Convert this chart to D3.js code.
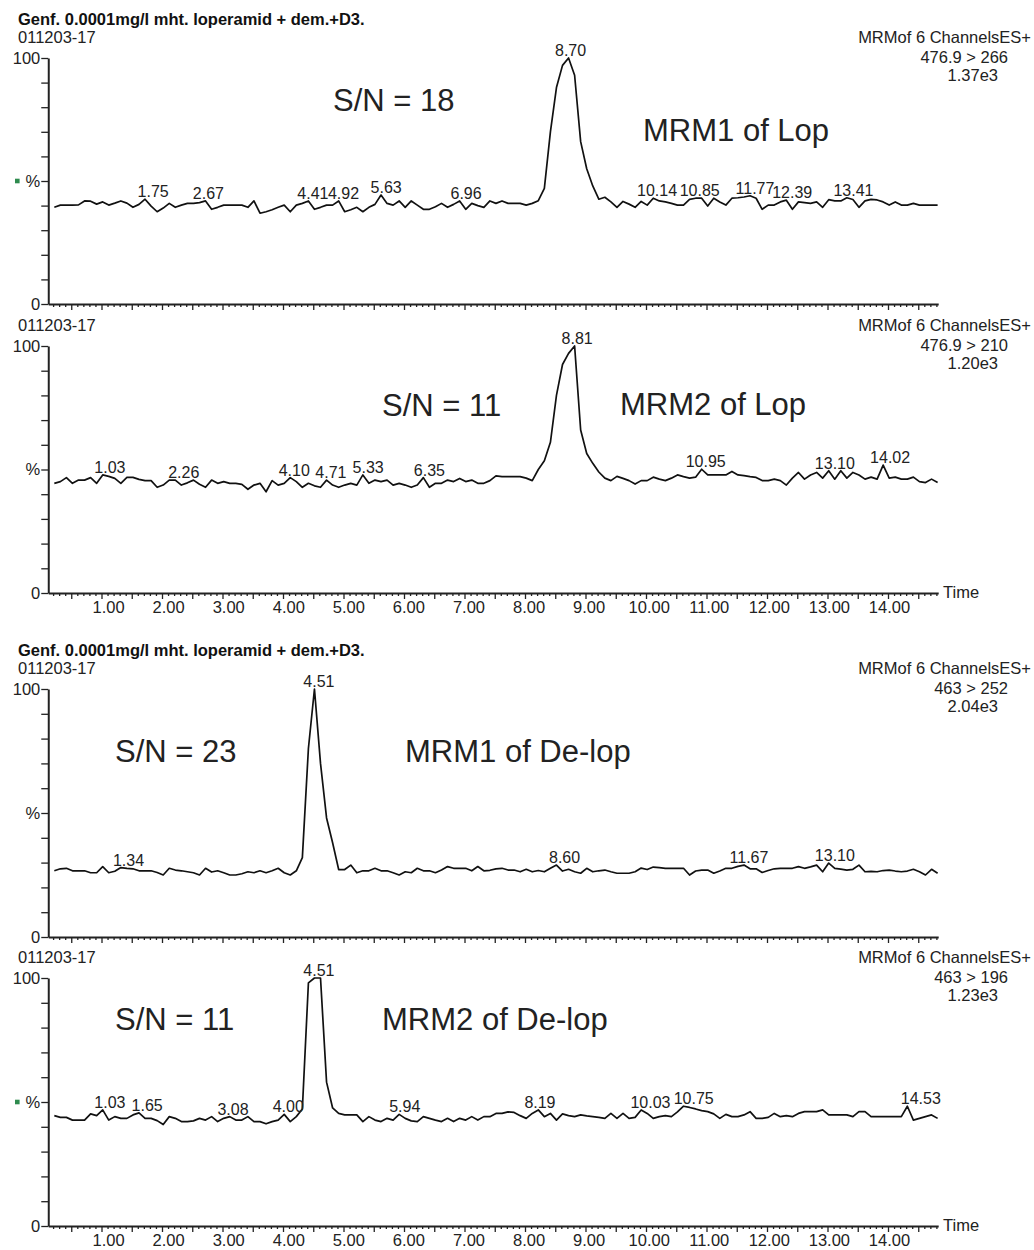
<!DOCTYPE html>
<html>
<head>
<meta charset="utf-8">
<script src="https://cdn.jsdelivr.net/npm/d3@7"></script>
<style>
  body { margin: 0; background: #fff; }
  svg { display: block; font-family: "Liberation Sans", Arial, Helvetica, sans-serif; }
</style>
</head>
<body>
<svg id="chart" width="1034" height="1250"></svg>
<script>
// Scan grid of the MRM acquisition (minutes)
const SCAN_START = 0.22;
const SCAN_STEP = 0.1;

// Relative intensity (%) per scan
const lopMrm1 = [
  39.3, 40.2, 40.2, 40.2, 40.3, 41.9, 41.8, 40.6, 41.5, 40.2,
  41.0, 41.9, 41.0, 39.3, 40.5, 42.6, 39.8, 37.5, 39.0, 40.9,
  39.3, 40.2, 40.9, 40.9, 41.2, 41.9, 38.5, 39.3, 40.2, 40.2,
  40.2, 40.2, 39.3, 41.9, 36.9, 37.5, 38.3, 39.3, 40.2, 37.5,
  40.2, 40.9, 41.9, 38.5, 39.3, 40.2, 40.2, 41.9, 37.5, 38.3,
  39.3, 37.5, 39.3, 40.5, 44.3, 40.9, 40.2, 41.9, 39.3, 41.9,
  40.2, 38.5, 38.5, 39.5, 40.9, 39.3, 40.5, 41.9, 38.5, 40.9,
  40.0, 39.3, 41.9, 40.9, 41.9, 40.9, 40.9, 40.9, 40.2, 40.9,
  42.0, 47.0, 70.0, 88.0, 97.0, 100, 93.0, 66.0, 55.0, 48.0,
  42.6, 43.4, 41.5, 39.3, 41.7, 40.6, 39.3, 41.7, 40.2, 43.0,
  41.9, 41.5, 40.9, 40.2, 40.2, 42.5, 43.0, 43.0, 39.8, 43.0,
  41.5, 40.2, 43.0, 43.2, 43.5, 44.0, 43.0, 38.5, 40.2, 40.2,
  41.5, 42.2, 38.5, 41.5, 41.2, 40.9, 41.5, 39.3, 42.4, 41.9,
  41.9, 43.2, 42.5, 39.3, 41.9, 42.5, 42.3, 41.5, 40.2, 41.5,
  40.2, 40.2, 40.9, 40.2, 40.2, 40.2, 40.2
];

const lopMrm2 = [
  44.4, 45.1, 46.7, 44.4, 45.7, 45.7, 46.7, 44.4, 47.8, 47.2,
  46.4, 44.4, 46.8, 46.8, 46.0, 45.5, 45.5, 42.8, 43.7, 45.7,
  45.7, 43.7, 44.6, 45.7, 44.0, 42.8, 45.7, 44.4, 45.1, 44.4,
  44.4, 44.0, 42.0, 43.7, 44.4, 41.0, 45.5, 43.7, 44.4, 46.7,
  45.1, 42.8, 44.4, 43.4, 42.8, 45.7, 43.7, 42.8, 43.7, 44.4,
  43.7, 47.8, 44.4, 45.7, 45.1, 45.7, 43.7, 44.4, 43.7, 42.8,
  43.7, 46.7, 42.8, 44.4, 44.4, 45.7, 45.1, 46.4, 45.1, 45.7,
  44.4, 44.4, 45.5, 47.4, 47.1, 47.1, 47.1, 47.1, 46.5, 45.5,
  50.0, 53.5, 61.0, 80.0, 92.5, 97.0, 100, 66.0, 56.5, 52.5,
  49.0, 46.5, 45.5, 47.2, 46.4, 45.5, 44.1, 45.5, 45.5, 46.9,
  46.1, 45.5, 46.5, 47.8, 47.1, 46.5, 46.9, 50.1, 47.8, 47.8,
  47.8, 47.8, 49.2, 47.8, 47.5, 47.1, 46.8, 45.5, 45.5, 46.1,
  45.5, 43.7, 46.5, 48.8, 46.1, 47.8, 48.8, 46.5, 49.5, 46.1,
  49.5, 46.5, 48.8, 47.8, 46.1, 46.9, 46.1, 51.8, 46.5, 46.9,
  46.1, 46.1, 46.9, 45.1, 44.7, 46.1, 44.7
];

const delopMrm1 = [
  26.7, 27.5, 27.7, 26.7, 26.7, 26.7, 25.9, 25.9, 28.4, 25.9,
  26.5, 28.0, 27.7, 27.5, 26.7, 26.7, 26.7, 26.0, 25.0, 27.7,
  27.0, 26.7, 26.3, 25.9, 25.0, 27.7, 26.2, 26.7, 25.9, 25.0,
  25.0, 25.5, 26.3, 25.9, 26.7, 25.9, 26.7, 27.7, 25.9, 25.0,
  26.7, 32.0, 76.0, 100, 70.0, 48.0, 38.0, 27.2, 27.2, 29.0,
  25.9, 26.7, 26.7, 27.7, 26.7, 26.7, 25.9, 25.0, 26.3, 25.9,
  27.7, 26.7, 26.7, 25.9, 27.0, 28.4, 27.7, 27.7, 27.7, 26.7,
  28.4, 26.7, 26.9, 27.5, 27.7, 27.0, 27.0, 26.3, 27.3, 26.3,
  26.8, 26.3, 27.7, 29.0, 26.6, 27.3, 26.3, 25.7, 27.7, 26.3,
  26.7, 27.0, 26.3, 25.7, 25.7, 25.7, 26.3, 27.8, 27.2, 28.2,
  28.0, 27.7, 27.7, 27.7, 27.7, 25.0, 26.6, 27.0, 27.0, 25.7,
  26.6, 27.7, 27.7, 28.5, 29.0, 27.5, 27.5, 26.0, 26.8, 27.5,
  27.7, 27.7, 27.7, 28.4, 27.7, 28.3, 29.0, 26.3, 29.8, 27.7,
  27.4, 27.0, 27.3, 29.0, 26.3, 26.5, 26.3, 26.8, 27.0, 26.6,
  26.3, 26.6, 27.3, 26.3, 25.0, 27.3, 25.7
];

const delopMrm2 = [
  44.5, 43.8, 43.8, 42.7, 42.7, 42.7, 45.2, 44.5, 46.8, 42.7,
  44.1, 43.4, 43.4, 44.8, 45.6, 43.4, 43.4, 42.5, 40.9, 44.1,
  43.4, 42.1, 42.1, 42.4, 43.4, 42.7, 44.1, 42.1, 43.4, 44.1,
  42.7, 42.7, 44.1, 42.1, 42.1, 41.2, 42.1, 42.7, 45.0, 42.1,
  44.1, 47.2, 98.0, 100, 100, 58.0, 47.6, 45.4, 44.8, 44.8,
  44.8, 42.1, 44.1, 42.7, 42.1, 43.4, 42.7, 45.0, 43.4, 42.4,
  42.1, 44.1, 43.4, 42.7, 42.1, 43.4, 42.1, 43.4, 42.7, 44.1,
  42.7, 44.1, 44.1, 45.4, 45.4, 46.0, 45.8, 44.5, 43.4, 45.4,
  46.8, 44.1, 45.4, 42.7, 45.2, 44.5, 44.1, 44.8, 44.4, 44.1,
  43.8, 43.4, 45.4, 43.4, 45.4, 43.4, 43.8, 46.8, 45.4, 43.4,
  44.1, 44.5, 44.1, 46.0, 48.3, 47.8, 47.2, 46.5, 46.1, 45.2,
  43.4, 45.0, 44.1, 44.1, 44.8, 46.1, 43.4, 43.4, 43.8, 45.4,
  44.1, 44.5, 44.1, 45.4, 46.1, 46.1, 46.1, 46.8, 44.8, 44.8,
  44.8, 44.8, 44.1, 46.1, 46.1, 44.1, 44.1, 44.1, 44.1, 44.1,
  44.1, 48.3, 42.7, 43.4, 44.1, 44.8, 43.4
];

// Retention times printed above the peaks
const lopMrm1Peaks = ["1.75", "2.67", "4.41", "4.92", "5.63", "6.96", "8.70", "10.14", "10.85", "11.77", "12.39", "13.41"];
const lopMrm2Peaks = ["1.03", "2.26", "4.10", "4.71", "5.33", "6.35", "8.81", "10.95", "13.10", "14.02"];
const delopMrm1Peaks = ["1.34", "4.51", "8.60", "11.67", "13.10"];
const delopMrm2Peaks = ["1.03", "1.65", "3.08", "4.00", "4.51", "5.94", "8.19", "10.03", "10.75", "14.53"];

// Channel header text
const transitions = ["476.9 > 266", "476.9 > 210", "463 > 252", "463 > 196"];
const intensities = ["1.37e3", "1.20e3", "2.04e3", "1.23e3"];
const snRatios = ["S/N = 18", "S/N = 11", "S/N = 23", "S/N = 11"];
const traceNames = ["MRM1 of Lop", "MRM2 of Lop", "MRM1 of De-lop", "MRM2 of De-lop"];

// Axis tick labels
const timeTicks = [1, 2, 3, 4, 5, 6, 7, 8, 9, 10, 11, 12, 13, 14];
const yTicks = [0, 10, 20, 30, 40, 50, 60, 70, 80, 90, 100];

const SAMPLE_TITLE = "Genf. 0.0001mg/l mht. loperamid + dem.+D3.";
const SAMPLE_ID = "011203-17";
const FUNCTION_NAME = "MRMof 6 ChannelsES+";

// ---- layout ----
const INK = "#222";
const FONT = 16.5;

const panels = [
  { data: lopMrm1,   peaks: lopMrm1Peaks,   top: 58,  bottom: 304,  title: true,  timeLabels: false, marker: true,
    sn: [333, 111], name: [643, 141] },
  { data: lopMrm2,   peaks: lopMrm2Peaks,   top: 346, bottom: 593,  title: false, timeLabels: true,  marker: false,
    sn: [382, 416], name: [620, 415] },
  { data: delopMrm1, peaks: delopMrm1Peaks, top: 689, bottom: 937,  title: true,  timeLabels: false, marker: false,
    sn: [115, 762], name: [405, 762] },
  { data: delopMrm2, peaks: delopMrm2Peaks, top: 978, bottom: 1226, title: false, timeLabels: true,  marker: true,
    sn: [115, 1030], name: [382, 1030] }
];

const svg = d3.select("#chart");
svg.append("rect").attr("width", 1034).attr("height", 1250).attr("fill", "#fff");

// Time scale for trace and ticks, and the slightly different one the printed labels sit on
const x = d3.scaleLinear().domain([0, 15]).range([41, 948.5]);
const labelX = d3.scaleLinear().domain([0, 15]).range([48, 949]);
const axisX = x.copy().domain([0.12, 14.83]).range([x(0.12), x(14.83)]);

const minorTicks = d3.range(2, 149).map(i => i / 10).filter(v => Math.abs(v * 2 - Math.round(v * 2)) > 1e-6);
const majorTicks = d3.range(1, 30).map(i => i / 2);

const scanTime = i => SCAN_START + i * SCAN_STEP;

function styleAxis(g) {
  g.attr("font-family", null).attr("font-size", null);
  g.select(".domain").attr("stroke", INK).attr("stroke-width", 2);
  g.selectAll(".tick line").attr("stroke", INK).attr("stroke-width", 1.3);
  g.selectAll(".tick text").attr("fill", INK).style("font-size", FONT + "px");
}

panels.forEach((p, k) => {
  const y = d3.scaleLinear().domain([0, 100]).range([p.bottom, p.top]);
  const g = svg.append("g");

  // Header lines
  if (p.title) {
    g.append("text").attr("x", 18).attr("y", p.top - 33)
      .attr("font-weight", "bold").attr("fill", "#111").style("font-size", FONT + "px")
      .text(SAMPLE_TITLE);
  }
  g.append("text").attr("x", 18).attr("y", p.top - 15)
    .attr("fill", INK).style("font-size", FONT + "px").text(SAMPLE_ID);

  const hdr = [[FUNCTION_NAME, 1031, p.top - 15], [transitions[k], 1008, p.top + 5], [intensities[k], 998, p.top + 23]];
  hdr.forEach(([t, hx, hy]) => {
    g.append("text").attr("x", hx).attr("y", hy).attr("text-anchor", "end")
      .attr("fill", INK).style("font-size", FONT + "px").text(t);
  });

  // Y axis: 100 / % / 0
  const yAxis = d3.axisLeft(y).tickValues(yTicks).tickSize(7).tickSizeOuter(0).tickPadding(1)
    .tickFormat(d => d === 100 ? "100" : d === 50 ? "%" : d === 0 ? "0" : "");
  g.append("g").attr("transform", `translate(${axisX.range()[0]},0)`).call(yAxis).call(styleAxis);

  if (p.marker) {
    g.append("rect").attr("x", 15).attr("y", y(50) - 2.3).attr("width", 4.6).attr("height", 4.6)
      .attr("fill", "#2e8b4e");
  }

  // X axis: minor + major ticks, labels only on the lower panel of each pair
  const xg = g.append("g").attr("transform", `translate(0,${p.bottom})`);
  xg.append("g").call(d3.axisBottom(axisX).tickValues(minorTicks).tickSize(3).tickSizeOuter(0).tickFormat(""))
    .call(styleAxis);
  const majors = xg.append("g").call(d3.axisBottom(axisX).tickValues(majorTicks).tickSize(6).tickSizeOuter(0).tickPadding(2)
      .tickFormat(d => (p.timeLabels && Number.isInteger(d)) ? d3.format(".2f")(d) : ""))
    .call(styleAxis);
  majors.select(".domain").remove();
  majors.selectAll(".tick text").attr("x", d => labelX(d) - x(d));

  if (p.timeLabels) {
    xg.append("text").attr("x", 943).attr("y", 5).attr("fill", INK)
      .style("font-size", FONT + "px").text("Time");
  }

  // Trace
  const line = d3.line().x((d, i) => x(scanTime(i))).y(d => y(d));
  g.append("path").datum(p.data).attr("d", line)
    .attr("fill", "none").attr("stroke", "#111").attr("stroke-width", 1.7).attr("stroke-linejoin", "round");

  // Peak labels sit on the local maximum near their retention time
  p.peaks.forEach(label => {
    const t = +label;
    let top = 0;
    p.data.forEach((v, i) => { if (Math.abs(scanTime(i) - t) <= 0.25) top = Math.max(top, v); });
    g.append("text").attr("x", labelX(t)).attr("y", y(top) - 2).attr("text-anchor", "middle")
      .attr("fill", INK).style("font-size", "16px").text(label);
  });

  // Annotations
  g.append("text").attr("x", p.sn[0]).attr("y", p.sn[1]).attr("fill", INK)
    .style("font-size", "31px").text(snRatios[k]);
  g.append("text").attr("x", p.name[0]).attr("y", p.name[1]).attr("fill", INK)
    .style("font-size", "31px").text(traceNames[k]);
});
</script>
</body>
</html>
